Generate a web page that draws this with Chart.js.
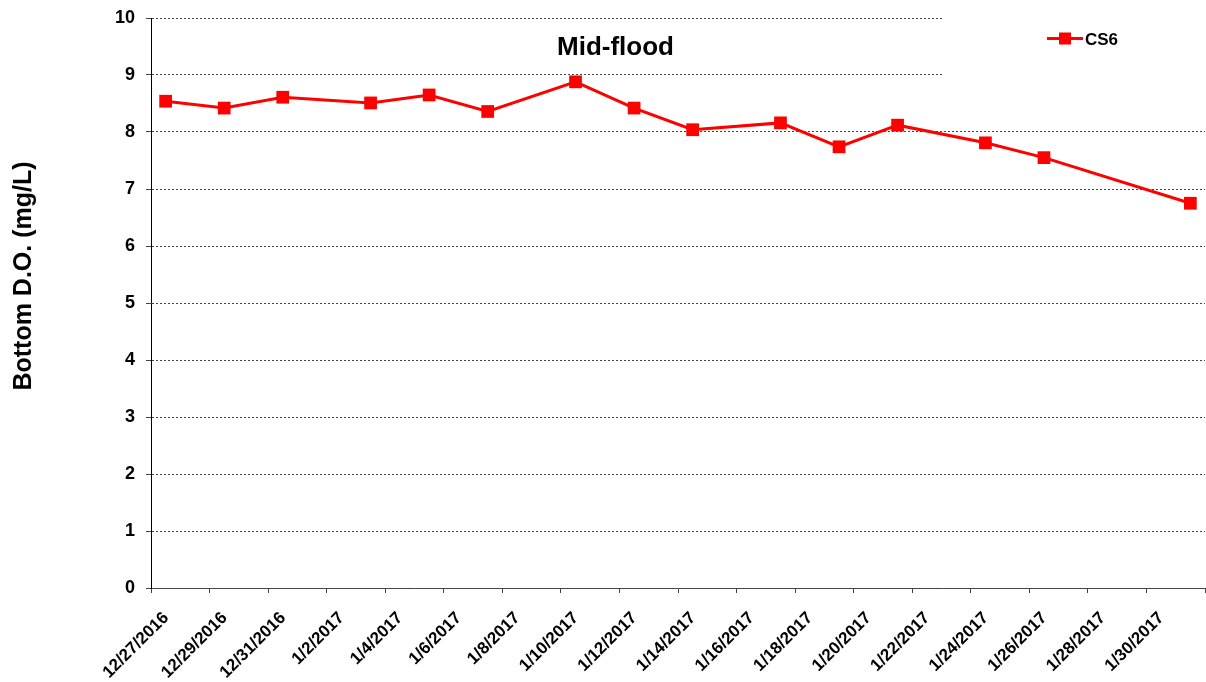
<!DOCTYPE html>
<html>
<head>
<meta charset="utf-8">
<script src="https://cdn.jsdelivr.net/npm/chart.js@4/dist/chart.umd.min.js"></script>
<style>
  html, body { margin: 0; padding: 0; background: #fff; }
  #wrap { width: 1206px; height: 682px; }
</style>
</head>
<body>
<div id="wrap"><canvas id="myChart" width="1206" height="682"></canvas></div>
<script>
// Messdaten CS6 (Bottom D.O.)
const sampleDates = ['2016-12-27T12:00', '2016-12-29T12:00', '2016-12-31T12:00', '2017-01-03T12:00',
  '2017-01-05T12:00', '2017-01-07T12:00', '2017-01-10T12:00', '2017-01-12T12:00', '2017-01-14T12:00',
  '2017-01-17T12:00', '2017-01-19T12:00', '2017-01-21T12:00', '2017-01-24T12:00', '2017-01-26T12:00',
  '2017-01-31T12:00'];
const cs6Values = [8.54, 8.42, 8.61, 8.51, 8.65, 8.36, 8.88, 8.42, 8.04, 8.16, 7.74, 8.12, 7.81, 7.55, 6.75];
const yTicks = [0, 1, 2, 3, 4, 5, 6, 7, 8, 9, 10];
const xStart = '2016-12-27';
const xEnd = '2017-02-01';
const seriesName = 'CS6';
const chartTitle = 'Mid-flood';
const yTitle = 'Bottom D.O. (mg/L)';

const DAY = 86400000;
const t0 = Date.parse(xStart + 'T00:00Z');
const toDay = s => (Date.parse(s + 'Z') - t0) / DAY;
const xMax = (Date.parse(xEnd + 'T00:00Z') - t0) / DAY;

const points = sampleDates.map((d, i) => ({ x: toDay(d), y: cs6Values[i] }));

const FONT = '"Liberation Sans", Arial, sans-serif';
const RED = '#ff0000';

const overlay = {
  id: 'overlay',
  beforeDatasetsDraw(chart) {
    // weisser Hintergrund der Legende (verdeckt die Gitterlinien)
    const c = chart.ctx;
    c.save();
    c.fillStyle = '#fff';
    c.fillRect(942, 0, chart.width - 942, 100);
    c.restore();
  },
  afterDraw(chart) {
    const c = chart.ctx;
    const ds = chart.data.datasets[0];
    c.save();
    // Titel
    c.fillStyle = '#000';
    c.font = 'bold 26px ' + FONT;
    c.textAlign = 'center';
    c.textBaseline = 'alphabetic';
    c.fillText(chartTitle, 615.5, 55);
    // Legende
    c.strokeStyle = ds.borderColor;
    c.lineWidth = ds.borderWidth;
    c.beginPath();
    c.moveTo(1047, 38.5);
    c.lineTo(1083, 38.5);
    c.stroke();
    c.fillStyle = ds.backgroundColor;
    c.fillRect(1059, 32.5, 12, 12);
    c.fillStyle = '#000';
    c.font = 'bold 17px ' + FONT;
    c.textAlign = 'left';
    c.fillText(ds.label, 1085, 44.5);
    // Y-Achsentitel
    c.translate(24, 276);
    c.rotate(-Math.PI / 2);
    c.font = 'bold 25px ' + FONT;
    c.textAlign = 'center';
    c.textBaseline = 'middle';
    c.fillText(yTitle, 0, 0);
    c.restore();
  }
};

const ctx = document.getElementById('myChart').getContext('2d');
const myChart = new Chart(ctx, {
  type: 'line',
  data: {
    datasets: [{
      label: seriesName,
      data: points,
      borderColor: RED,
      backgroundColor: RED,
      borderWidth: 3,
      pointStyle: 'rect',
      pointRadius: 9,
      pointBorderWidth: 0,
      tension: 0
    }]
  },
  options: {
    responsive: false,
    animation: false,
    devicePixelRatio: 1,
    layout: { autoPadding: false, padding: { top: 18, right: 1, left: 0, bottom: 0 } },
    plugins: {
      legend: { display: false },
      tooltip: { enabled: false }
    },
    scales: {
      x: {
        type: 'linear',
        min: 0,
        max: xMax,
        afterFit(scale) {
          scale.height = 94;
          scale.paddingLeft = 0;
          scale.paddingRight = 0;
        },
        grid: {
          drawOnChartArea: false,
          drawTicks: true,
          tickLength: 5,
          tickColor: '#444',
          tickBorderDash: []
        },
        border: { color: '#444', width: 1 },
        ticks: {
          stepSize: 2,
          autoSkip: false,
          minRotation: 45,
          maxRotation: 45,
          padding: 15,
          labelOffset: 15,
          color: '#000',
          font: { family: FONT, size: 17, weight: 'bold' },
          callback(v) {
            if (v >= xMax) return '';
            const d = new Date(t0 + v * DAY);
            return (d.getUTCMonth() + 1) + '/' + d.getUTCDate() + '/' + d.getUTCFullYear();
          }
        }
      },
      y: {
        min: 0,
        max: 10,
        afterFit(scale) {
          scale.width = 151;
          scale.paddingTop = 0;
          scale.paddingBottom = 0;
        },
        afterBuildTicks(scale) { scale.ticks = yTicks.map(v => ({ value: v })); },
        grid: {
          color: '#444',
          lineWidth: 1,
          tickLength: 5,
          tickColor: '#444',
          tickBorderDash: []
        },
        border: { color: '#000', width: 1, dash: [2, 2] },
        ticks: {
          padding: 11,
          color: '#000',
          font: { family: FONT, size: 18, weight: 'bold' }
        }
      }
    }
  },
  plugins: [overlay]
});
</script>
</body>
</html>
